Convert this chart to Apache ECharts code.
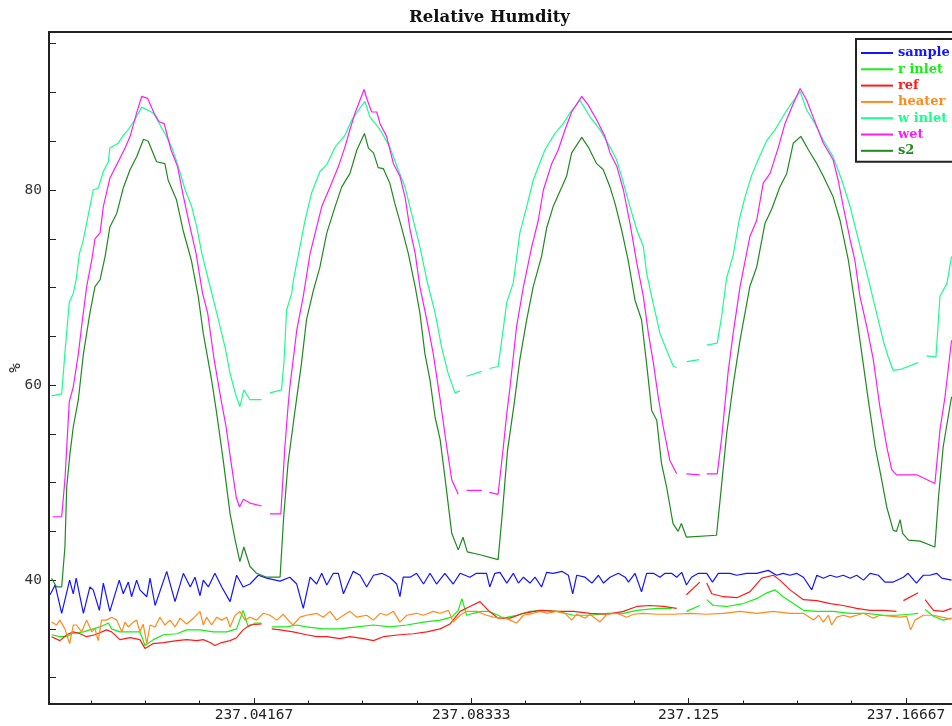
<!DOCTYPE html>
<html>
<head>
<meta charset="utf-8">
<title>Relative Humdity</title>
<script src="https://cdn.jsdelivr.net/npm/echarts@6/dist/echarts.min.js"></script>
<style>
    html, body {
        margin: 0;
        padding: 0;
        background: #fff;
    }

    #rh {
        width: 952px;
        height: 726px;
    }
</style>
</head>
<body>
<div id="rh"></div>
<script>
    // time is in minutes after day 237.0, values are % RH
    // '-' marks a hole in the logging
    const GAP = '-'

    const xTickMinutes = [60, 120, 180, 240]
    const xTickLabels = ['237.04167', '237.08333', '237.125', '237.16667']
    const xMinorMinutes = [15, 30, 45, 75, 90, 105, 135, 150, 165, 195, 210, 225, 255]
    const yTickLabels = [40, 60, 80]
    const yTicks = [30, 35, 40, 45, 50, 55, 60, 65, 70, 75, 80, 85, 90, 95]

    const sample = [
        [3.7, 38.5], [5.1, 39.5], [6.9, 36.6], [9.1, 40.0], [10.1, 38.6], [10.9, 40.2], [12.9, 36.6], [14.7, 39.3],
        [15.6, 39.0], [17.3, 36.9], [18.4, 39.7], [20.2, 36.8], [22.8, 40.0], [23.9, 38.6], [25.3, 39.8], [26.2, 38.3],
        [27.6, 40.0], [28.5, 39.0], [30.4, 38.3], [31.3, 40.2], [32.7, 37.4], [35.9, 40.9], [38.2, 37.8], [40.5, 40.7],
        [42.4, 39.3], [43.7, 40.3], [45.1, 38.4], [46.0, 40.0], [47.4, 39.3], [49.2, 40.7], [51.1, 39.3], [53.4, 37.8],
        [55.2, 40.5], [57.0, 39.3], [58.9, 39.6], [61.2, 40.5], [63.5, 40.2], [67.2, 39.9], [69.9, 40.3], [71.8, 39.6],
        [73.6, 37.1], [75.5, 40.3], [77.3, 39.6], [78.7, 40.7], [80.1, 39.5], [81.9, 40.7], [83.3, 40.7], [84.7, 38.6],
        [87.4, 40.9], [89.3, 40.5], [91.1, 39.3], [93.0, 40.5], [95.3, 40.7], [97.5, 40.3], [99.4, 39.6], [100.3, 38.3],
        [101.2, 40.3], [103.1, 40.3], [104.9, 40.7], [106.8, 39.6], [108.6, 40.7], [110.4, 39.6], [112.7, 40.7], [115.0, 39.6],
        [116.9, 40.7], [119.6, 40.3], [121.4, 40.7], [124.2, 40.7], [125.1, 39.3], [126.5, 40.7], [127.9, 40.8], [129.8, 39.7],
        [131.6, 40.7], [133.0, 39.7], [134.4, 40.3], [136.2, 39.7], [137.6, 40.3], [139.4, 39.3], [140.8, 40.8], [142.6, 40.7],
        [145.0, 40.9], [146.8, 40.5], [148.0, 38.6], [149.1, 40.5], [151.4, 40.3], [153.3, 39.7], [155.1, 40.5], [156.5, 39.7],
        [158.3, 40.3], [160.6, 40.7], [162.5, 40.3], [163.4, 39.8], [165.2, 40.7], [167.0, 38.8], [168.4, 40.7], [170.3, 40.7],
        [172.1, 40.3], [173.5, 40.7], [175.3, 40.7], [176.7, 40.3], [178.1, 40.8], [179.4, 39.5], [180.8, 40.3], [182.7, 40.7],
        [185.0, 40.7], [186.6, 39.8], [188.2, 40.7], [191.4, 40.7], [193.3, 40.5], [196.0, 40.7], [198.8, 40.7], [202.0, 41.0],
        [204.3, 40.5], [206.1, 40.7], [208.0, 40.5], [209.8, 40.7], [211.7, 40.3], [214.0, 39.0], [215.4, 40.5], [217.2, 40.2],
        [219.1, 40.5], [220.9, 40.3], [222.7, 40.5], [224.6, 40.2], [226.4, 40.5], [228.3, 40.0], [230.1, 40.7], [232.4, 40.5],
        [234.2, 39.8], [236.5, 39.8], [239.3, 40.3], [240.6, 40.7], [242.9, 39.7], [244.8, 40.5], [246.6, 40.5], [248.5, 40.7],
        [249.9, 40.2], [252.6, 40.0]
    ]

    const rInlet = [
        [4.1, 34.4], [6.4, 34.2], [8.3, 34.2], [9.6, 34.5], [12.9, 34.7], [14.7, 34.9], [17.5, 35.2], [19.8, 35.6],
        [20.7, 35.0], [23.0, 34.7], [28.5, 34.7], [29.9, 33.3], [32.2, 33.9], [35.0, 34.4], [38.7, 34.5], [41.4, 34.9],
        [45.1, 34.9], [48.8, 34.7], [52.5, 34.7], [55.2, 35.0], [57.0, 36.9], [58.4, 35.2], [60.3, 35.6], [62.1, 35.6],
        [63.5, GAP],
        [64.9, 35.2], [69.0, 35.2], [71.8, 35.4], [74.5, 35.2], [79.1, 35.0], [83.7, 35.0], [88.4, 35.2], [93.0, 35.4],
        [97.5, 35.2], [102.2, 35.4], [106.8, 35.7], [111.4, 35.9], [114.6, 36.2], [116.4, 36.9], [117.4, 38.1], [118.7, 36.4],
        [120.6, 36.6], [122.9, 36.8], [124.7, 36.8], [127.4, 36.4], [128.8, 36.1], [132.5, 36.4], [136.2, 36.8], [139.9, 36.9],
        [143.6, 36.8], [148.2, 36.4], [152.8, 36.4], [157.4, 36.6], [162.0, 36.6], [165.7, 36.9], [171.2, 37.1], [175.3, 37.1],
        [177.0, GAP],
        [179.4, 36.8], [183.1, 37.4],
        [184.0, GAP],
        [185.0, 38.0], [186.8, 37.4], [190.5, 37.3], [195.1, 37.6], [198.8, 38.1], [201.6, 38.7], [203.9, 39.0], [206.1, 38.3],
        [208.9, 37.6], [211.7, 36.9], [215.4, 36.8], [219.9, 36.8], [224.6, 36.6], [229.2, 36.6], [233.8, 36.4], [237.4, 36.4],
        [241.1, 36.5], [243.4, 36.6],
        [244.3, GAP],
        [245.3, 37.0], [247.6, 36.3], [250.3, 35.9], [252.6, 36.1]
    ]

    const ref = [
        [4.1, 34.2], [6.4, 33.8], [8.3, 34.4], [10.1, 34.7], [12.0, 34.5], [13.8, 34.2], [16.1, 34.4], [19.3, 34.9],
        [20.7, 34.7], [23.0, 33.9], [25.8, 34.1], [28.5, 33.9], [29.9, 33.0], [32.2, 33.5], [35.0, 33.6], [38.7, 33.8],
        [41.4, 33.9], [44.2, 33.8], [46.0, 33.9], [47.9, 33.6], [49.2, 33.3], [51.1, 33.6], [53.4, 33.8], [55.2, 34.1],
        [57.0, 34.9], [58.9, 35.4], [62.1, 35.5],
        [63.5, GAP],
        [64.9, 35.0], [67.2, 34.9], [70.8, 34.7], [74.5, 34.4], [77.3, 34.2], [80.1, 34.2], [83.7, 34.0], [86.5, 34.2],
        [90.2, 34.0], [93.0, 33.8], [95.7, 34.2], [100.3, 34.4], [104.0, 34.5], [107.7, 34.7], [111.4, 35.0], [114.1, 35.5],
        [116.9, 36.8], [119.6, 37.3], [122.4, 37.8], [124.7, 36.9], [127.4, 36.1], [130.7, 36.1], [134.4, 36.6], [139.0, 36.9],
        [143.6, 36.8], [148.2, 36.8], [152.8, 36.6], [157.4, 36.5], [162.0, 36.8], [165.7, 37.3], [169.3, 37.4], [173.0, 37.3],
        [176.7, 37.1],
        [178.0, GAP],
        [179.4, 38.5], [183.1, 39.8],
        [184.0, GAP],
        [185.0, 39.7], [186.4, 38.6], [189.6, 38.3], [193.3, 38.2], [196.9, 38.8], [200.2, 40.2], [203.4, 40.5], [205.2, 40.0],
        [208.0, 39.0], [211.7, 38.0], [215.4, 37.9], [219.1, 37.6], [222.7, 37.4], [226.4, 37.1], [230.1, 36.9], [233.8, 36.9],
        [237.4, 36.8],
        [238.4, GAP],
        [239.3, 37.9], [243.4, 38.7],
        [244.3, GAP],
        [245.3, 38.0], [247.6, 36.9], [250.3, 36.8], [252.6, 37.1]
    ]

    const heater = [
        [4.1, 35.7], [5.5, 35.4], [6.4, 35.9], [7.8, 35.0], [9.1, 33.5], [10.1, 35.4], [11.0, 35.4], [12.4, 34.7],
        [13.8, 35.9], [15.2, 34.7], [16.1, 35.0], [17.0, 33.8], [17.9, 35.9], [19.3, 35.9], [20.7, 36.2], [22.1, 35.9],
        [23.5, 34.7], [24.4, 35.7], [25.3, 35.2], [26.7, 35.7], [27.6, 35.9], [28.5, 34.7], [29.4, 35.5], [30.4, 33.5],
        [31.3, 35.4], [32.7, 35.2], [34.0, 36.2], [35.4, 35.4], [36.8, 35.9], [38.2, 35.2], [39.6, 36.1], [41.4, 35.5],
        [43.3, 36.1], [45.1, 36.8], [46.0, 35.4], [46.9, 36.2], [48.3, 35.4], [49.7, 36.2], [51.1, 35.9], [52.5, 36.2],
        [53.4, 35.2], [54.8, 36.4], [56.1, 36.8], [57.5, 35.9], [58.9, 36.2], [60.7, 35.9], [62.6, 36.6], [64.4, 36.4],
        [66.3, 35.9], [68.1, 36.5], [69.9, 35.7], [70.8, 35.4], [72.7, 36.2], [74.5, 36.4], [77.3, 36.6], [79.1, 36.2],
        [81.0, 36.8], [82.8, 35.9], [84.7, 36.4], [86.5, 36.8], [88.4, 36.2], [91.1, 36.4], [93.0, 35.9], [94.8, 36.6],
        [96.6, 36.4], [98.5, 36.8], [100.3, 35.7], [102.2, 36.4], [104.9, 36.6], [106.8, 36.4], [109.5, 36.8], [111.4, 36.6],
        [113.7, 36.9], [115.0, 35.7], [116.9, 36.4], [118.7, 36.8], [121.5, 36.8], [124.2, 36.4], [126.1, 36.2], [127.9, 36.1],
        [128.8, 36.2], [130.7, 35.9], [132.5, 35.6], [134.4, 36.4], [137.1, 36.6], [139.0, 36.8], [140.8, 36.6], [143.6, 36.8],
        [145.9, 36.6], [147.7, 35.9], [149.1, 36.5], [151.4, 36.1], [152.8, 36.5], [155.5, 35.7], [157.4, 36.5], [160.2, 36.6],
        [162.9, 36.2], [164.8, 36.5], [167.5, 36.6], [171.2, 36.5], [175.8, 36.5], [180.4, 36.6], [185.0, 36.5], [189.6, 36.6],
        [194.2, 36.8], [198.8, 36.6], [203.4, 36.8], [208.0, 36.6], [211.7, 36.6], [214.5, 35.9], [215.9, 36.4], [217.2, 35.7],
        [218.6, 36.4], [219.5, 35.4], [220.9, 36.2], [222.7, 36.4], [224.6, 36.2], [226.4, 36.4], [228.3, 36.6], [231.0, 36.1],
        [232.8, 36.4], [235.6, 36.3], [238.4, 36.2], [240.2, 36.3], [241.3, 34.9], [242.5, 35.9], [244.8, 36.4], [247.6, 36.4],
        [249.9, 36.2], [252.6, 36.0]
    ]

    const wInlet = [
        [4.1, 58.9], [6.9, 59.1], [7.8, 63.3], [9.0, 68.5], [10.1, 69.4], [10.9, 70.8], [11.8, 73.5], [12.7, 74.6],
        [13.8, 76.6], [15.6, 80.0], [17.0, 80.2], [18.4, 81.9], [19.8, 82.9], [20.2, 84.3], [22.5, 84.8], [23.9, 85.6],
        [25.3, 86.2], [27.1, 87.2], [29.0, 88.5], [29.4, 88.7], [32.2, 87.9], [35.4, 85.8], [37.3, 84.4], [39.1, 82.4],
        [41.0, 80.0], [42.8, 78.3], [44.2, 76.2], [45.6, 73.5], [47.4, 70.8], [49.7, 67.4], [52.0, 63.9], [53.4, 61.2],
        [54.8, 59.2], [56.1, 57.8], [57.2, 59.5], [58.9, 58.5], [62.1, 58.5],
        [63.3, GAP],
        [64.4, 59.2], [67.6, 59.5], [68.3, 62.5], [69.0, 67.7], [70.4, 69.4], [70.9, 70.8], [72.7, 74.2], [74.1, 76.9],
        [75.9, 79.7], [78.2, 81.9], [80.1, 82.6], [82.4, 84.4], [85.1, 85.6], [87.0, 87.2], [90.6, 89.1], [92.0, 87.5],
        [94.8, 86.2], [97.5, 84.4], [99.8, 82.1], [101.7, 80.3], [103.5, 77.6], [105.8, 74.2], [107.7, 70.8], [110.0, 67.4],
        [111.8, 63.9], [113.6, 61.2], [115.5, 59.2], [116.9, 59.4],
        [117.8, GAP],
        [118.7, 60.9], [122.9, 61.4],
        [124.0, GAP],
        [125.0, 61.7], [127.4, 61.9], [128.4, 64.6], [129.8, 68.5], [131.6, 70.5], [133.4, 75.6], [135.3, 78.3], [137.1, 81.0],
        [140.3, 84.1], [143.1, 85.8], [145.4, 86.8], [147.2, 87.9], [150.0, 89.2], [152.8, 87.5], [155.5, 86.2], [158.3, 84.4],
        [160.1, 83.1], [161.5, 81.4], [163.8, 78.3], [165.7, 75.9], [167.5, 74.2], [168.4, 71.5], [170.2, 68.4], [172.1, 65.3],
        [173.9, 63.6], [175.8, 61.9], [176.7, 61.8],
        [178.0, GAP],
        [179.5, 62.4], [182.9, 62.6],
        [184.0, GAP],
        [185.0, 64.1], [187.9, 64.3], [189.1, 67.0], [190.5, 71.0], [192.3, 73.3], [194.0, 77.0], [195.6, 79.3], [197.4, 81.5],
        [199.2, 83.1], [201.6, 85.1], [203.9, 86.2], [207.1, 88.2], [210.8, 90.1], [212.6, 88.2], [214.9, 86.8], [217.2, 85.1],
        [219.9, 83.4], [222.3, 81.0], [224.6, 78.3], [226.4, 75.6], [229.2, 71.5], [231.5, 68.0], [233.7, 64.6], [235.1, 62.9],
        [236.5, 61.5], [238.4, 61.6], [243.4, 62.3],
        [244.5, GAP],
        [245.7, 63.0], [248.3, 62.9], [249.4, 69.1], [251.3, 70.4], [252.6, 73.2]
    ]

    const wet = [
        [4.4, 46.5], [6.9, 46.5], [7.8, 50.3], [9.0, 58.3], [10.1, 59.8], [11.5, 63.2], [12.4, 66.0], [13.8, 70.1],
        [15.2, 72.8], [16.1, 75.0], [17.5, 75.6], [18.4, 78.3], [20.2, 81.2], [22.1, 82.6], [24.4, 84.3], [25.8, 85.5],
        [27.6, 87.9], [29.0, 89.6], [30.6, 89.4], [32.4, 87.9], [33.8, 87.0], [35.2, 86.8], [37.1, 84.1], [38.9, 82.4],
        [40.3, 79.7], [42.1, 76.6], [44.0, 73.5], [45.8, 69.4], [47.2, 67.4], [49.0, 62.6], [50.9, 58.5], [52.3, 55.7],
        [53.7, 52.0], [55.1, 48.5], [56.0, 47.5], [57.1, 48.3], [58.9, 47.9], [62.1, 47.6],
        [63.3, GAP],
        [64.4, 46.8], [67.4, 46.8], [68.5, 53.5], [69.4, 57.8], [69.9, 59.8], [71.8, 65.6], [73.6, 69.1], [75.5, 73.5],
        [77.3, 76.2], [78.7, 78.3], [81.0, 80.3], [83.3, 82.4], [85.1, 84.4], [86.5, 86.2], [87.9, 87.9], [90.4, 90.3],
        [91.3, 89.2], [92.5, 88.0], [93.9, 88.0], [94.8, 86.8], [96.6, 85.5], [98.5, 82.7], [100.3, 81.4], [101.7, 79.3],
        [103.1, 75.9], [104.5, 73.5], [105.8, 70.1], [107.7, 66.7], [109.5, 63.2], [111.4, 58.5], [113.2, 53.7], [114.6, 50.3],
        [116.4, 48.8],
        [117.6, GAP],
        [118.7, 49.2], [122.9, 49.2],
        [124.0, GAP],
        [125.0, 49.0], [127.4, 48.8], [128.8, 53.5], [129.8, 57.1], [130.7, 59.8], [132.5, 66.0], [134.4, 70.1], [136.7, 74.2],
        [138.5, 76.9], [139.9, 80.0], [142.2, 82.7], [144.0, 84.1], [145.9, 86.2], [147.7, 88.0], [150.5, 89.6], [152.3, 88.7],
        [154.6, 87.2], [156.9, 85.5], [158.3, 83.8], [160.2, 82.4], [162.0, 80.0], [163.8, 76.6], [165.7, 72.5], [167.5, 69.1],
        [168.9, 65.3], [170.3, 62.2], [171.6, 58.8], [173.0, 55.7], [174.8, 52.3], [176.7, 50.9],
        [178.0, GAP],
        [179.4, 50.9], [183.1, 50.8],
        [184.0, GAP],
        [185.0, 50.9], [187.9, 50.9], [189.1, 54.5], [190.9, 61.3], [192.3, 65.3], [194.2, 70.1], [196.9, 75.2], [198.8, 76.9],
        [200.6, 80.7], [202.5, 81.7], [204.8, 84.4], [206.6, 86.8], [208.5, 88.5], [210.8, 90.4], [212.6, 89.2], [215.4, 86.5],
        [217.2, 84.8], [219.9, 83.1], [221.3, 81.0], [222.7, 78.3], [224.6, 74.9], [225.9, 72.8], [227.3, 69.1], [229.2, 66.0],
        [231.0, 62.6], [232.8, 57.8], [234.7, 53.7], [236.1, 51.3], [237.4, 50.8], [243.0, 50.8], [248.0, 49.9], [249.4, 55.4],
        [250.8, 58.8], [252.6, 64.6]
    ]

    const s2 = [
        [4.1, 40.2], [5.5, 39.3], [6.9, 39.3], [7.8, 43.4], [8.3, 49.6], [9.2, 53.0], [10.1, 55.7], [11.5, 58.5],
        [12.9, 63.2], [14.7, 67.4], [16.1, 70.1], [17.5, 70.8], [18.9, 73.2], [20.2, 76.2], [22.1, 77.6], [23.9, 80.2],
        [25.8, 82.1], [27.6, 83.4], [29.5, 85.2], [30.8, 85.0], [33.1, 82.9], [35.4, 82.7], [36.3, 81.0], [38.6, 79.0],
        [40.4, 75.9], [42.7, 72.8], [44.6, 69.1], [46.0, 65.3], [48.3, 60.5], [49.7, 57.1], [51.5, 52.3], [53.4, 46.8],
        [54.8, 44.1], [56.1, 41.9], [57.2, 43.4], [58.9, 41.4], [60.7, 40.7], [63.5, 40.3], [67.2, 40.3], [68.2, 46.5],
        [69.4, 52.0], [71.0, 56.5], [73.1, 62.2], [74.5, 66.7], [76.4, 69.7], [78.2, 72.1], [80.1, 75.6], [82.4, 78.3],
        [84.2, 80.3], [86.5, 81.7], [88.4, 84.1], [90.5, 85.8], [91.6, 84.3], [93.0, 83.8], [94.3, 82.3], [95.7, 82.2],
        [97.5, 80.7], [98.9, 78.6], [100.8, 76.1], [102.6, 73.5], [104.5, 70.1], [105.8, 67.4], [107.2, 63.2], [108.6, 60.5],
        [110.0, 56.7], [111.4, 54.4], [112.8, 50.3], [114.6, 44.8], [116.4, 43.1], [117.7, 44.4], [118.9, 42.9], [122.4, 42.6],
        [127.4, 42.1], [128.6, 47.0], [130.0, 53.3], [131.8, 58.0], [133.4, 62.6], [135.3, 66.7], [137.1, 70.1], [139.4, 73.2],
        [140.8, 76.1], [142.6, 78.3], [145.0, 80.3], [146.3, 81.4], [147.7, 83.8], [150.5, 85.4], [152.3, 84.4], [154.6, 82.7],
        [156.4, 82.1], [158.3, 80.3], [159.7, 78.6], [161.5, 75.9], [163.3, 72.8], [165.2, 68.7], [167.0, 66.7], [168.4, 62.2],
        [169.8, 57.4], [171.2, 56.4], [172.5, 52.0], [173.9, 49.6], [175.7, 45.8], [177.1, 45.0], [178.0, 45.8], [179.4, 44.4],
        [187.7, 44.6], [188.9, 49.0], [190.5, 55.0], [192.3, 60.0], [194.2, 64.6], [196.9, 70.1], [198.8, 72.1], [201.1, 76.6],
        [202.9, 78.0], [205.2, 80.3], [207.1, 81.7], [208.9, 84.8], [211.0, 85.5], [213.1, 84.1], [215.4, 82.7], [217.2, 81.4],
        [219.9, 79.3], [221.8, 76.9], [224.1, 72.8], [225.9, 68.4], [227.3, 64.6], [229.6, 58.5], [231.5, 53.7], [233.3, 50.3],
        [234.7, 47.5], [236.5, 45.1], [237.4, 45.0], [238.4, 46.2], [239.1, 44.8], [240.7, 44.1], [243.9, 44.0], [248.0, 43.4],
        [249.0, 48.5], [250.3, 53.7], [252.6, 58.8]
    ]

    const names = ['sample', 'r inlet', 'ref', 'heater', 'w inlet', 'wet', 's2']
    const colors = ['#1414ff', '#14f014', '#ff1a1a', '#ff8a1a', '#1aff8c', '#ff1aff', '#1f8a1f']
    const lists = [sample, rInlet, ref, heater, wInlet, wet, s2]

    // minutes after day 237 -> day number on the axis
    function toDay(m) {
        return 237 + m / 1440
    }

    let myChart = echarts.init(document.getElementById('rh'))

    const axisFont = 'DejaVu Sans Mono'

    myChart.setOption({
        animation: false,
        backgroundColor: '#fff',
        title: {
            text: 'Relative Humdity',
            left: 404,
            top: 4,
            textStyle: {
                fontFamily: 'DejaVu Serif',
                fontWeight: 'bold',
                fontSize: 16.5,
                color: '#111'
            }
        },
        legend: {
            orient: 'vertical',
            left: 856,
            top: 39,
            padding: [7, 10, 4, 5],
            itemWidth: 32,
            itemHeight: 2,
            itemGap: 2.3,
            icon: 'rect',
            borderColor: '#222',
            borderWidth: 2,
            backgroundColor: '#fff',
            textStyle: {
                fontFamily: 'DejaVu Serif',
                fontWeight: 'bold',
                fontSize: 13,
                lineHeight: 14
            },
            data: names.map((n, i) => ({
                name: n,
                itemStyle: { color: colors[i] },
                textStyle: { color: colors[i] }
            }))
        },
        grid: {
            left: 49,
            right: -1,
            top: 32,
            bottom: 22,
            outerBoundsMode: 'none',
            containLabel: false,
            show: true,
            borderColor: '#222',
            borderWidth: 2
        },
        xAxis: [{
            type: 'value',
            min: toDay(3.4),
            max: toDay(253.0),
            splitLine: { show: false },
            axisLine: { lineStyle: { color: '#222', width: 2 } },
            axisTick: {
                inside: true,
                length: 6,
                customValues: xTickMinutes.map(toDay),
                lineStyle: { color: '#222', width: 1 }
            },
            axisLabel: {
                customValues: xTickMinutes.map(toDay),
                margin: 4,
                fontFamily: axisFont,
                fontSize: 14.5,
                color: '#222',
                formatter: function (v) {
                    const m = Math.round((v - 237) * 1440)
                    return xTickLabels[xTickMinutes.indexOf(m)]
                }
            }
        }, {
            // minor ticks every quarter hour
            type: 'value',
            position: 'bottom',
            min: toDay(3.4),
            max: toDay(253.0),
            splitLine: { show: false },
            axisLine: { show: false },
            axisLabel: { show: false },
            axisTick: {
                inside: true,
                length: 3.5,
                customValues: xMinorMinutes.map(toDay),
                lineStyle: { color: '#222', width: 1 }
            }
        }],
        yAxis: {
            type: 'value',
            min: 27.3,
            max: 96.2,
            name: '%',
            nameLocation: 'middle',
            nameGap: 25,
            nameRotate: 90,
            nameMoveOverlap: false,
            nameTextStyle: {
                fontFamily: axisFont,
                fontSize: 16,
                color: '#222'
            },
            splitLine: { show: false },
            axisLine: { lineStyle: { color: '#222', width: 2 } },
            axisTick: {
                inside: true,
                length: 7,
                customValues: yTicks,
                lineStyle: { color: '#222', width: 1 }
            },
            axisLabel: {
                customValues: yTickLabels,
                margin: 7,
                fontFamily: axisFont,
                fontSize: 14.5,
                color: '#333'
            }
        },
        series: lists.map((list, i) => ({
            name: names[i],
            type: 'line',
            xAxisIndex: 0,
            symbol: 'none',
            connectNulls: false,
            color: colors[i],
            lineStyle: { width: 1.2, color: colors[i] },
            data: list.map(p => [toDay(p[0]), p[1]])
        }))
    })
</script>
</body>
</html>
